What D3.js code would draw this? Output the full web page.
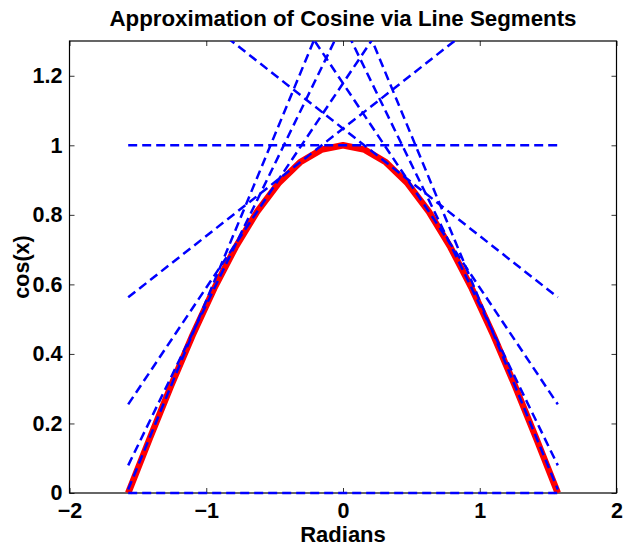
<!DOCTYPE html>
<html>
<head>
<meta charset="utf-8">
<script src="https://cdn.jsdelivr.net/npm/d3@7"></script>
<style>
  body { margin: 0; background: #fff; }
  text { font-family: "Liberation Sans", Arial, Helvetica, sans-serif; font-weight: bold; }
</style>
</head>
<body>
<div id="chart"></div>
<script>
// tick values
const ticksX = [-2, -1, 0, 1, 2];
const ticksY = [0, 0.2, 0.4, 0.6, 0.8, 1, 1.2];

// red curve: cos(x) sampled every pi/20
const curveX = [-1.5708, -1.4137, -1.2566, -1.0996, -0.9425, -0.7854, -0.6283, -0.4712, -0.3142, -0.1571,
                0, 0.1571, 0.3142, 0.4712, 0.6283, 0.7854, 0.9425, 1.0996, 1.2566, 1.4137, 1.5708];
const curveY = [0, 0.1564, 0.3090, 0.4540, 0.5878, 0.7071, 0.8090, 0.8910, 0.9511, 0.9877,
                1, 0.9877, 0.9511, 0.8910, 0.8090, 0.7071, 0.5878, 0.4540, 0.3090, 0.1564, 0];

// dashed lines, each runs from x=-pi/2 to x=pi/2
const lineX = [-1.5708, 1.5708];
const lineLeftY  = [0.0102, 0.0795, 0.2550, 0.5628, 1, 1.5336, 2.1016, 2.621, 2.998, 0];
const lineRightY = [2.998, 2.621, 2.1016, 1.5336, 1, 0.5628, 0.2550, 0.0795, 0.0102, 0];

let chart_width  = 624;
let chart_height = 547;
let margin = {left: 69.5, right: 7.5, top: 41, bottom: 54};

let svg = d3.select('#chart')
            .append('svg')
            .attr('width', chart_width)
            .attr('height', chart_height);

let x_scale = d3.scaleLinear()
            .domain([-2, 2])
            .range([margin.left, chart_width - margin.right]);

let y_scale = d3.scaleLinear()
            .domain([0, 1.3])
            .range([chart_height - margin.bottom, margin.top]);

let fmt = d3.format('~g');
let x0 = x_scale.range()[0], x1 = x_scale.range()[1];
let y0 = y_scale.range()[0], y1 = y_scale.range()[1];

// clip a touch past the frame so the y=0 dashes stay visible
svg.append('clipPath')
  .attr('id', 'plot-clip')
  .append('rect')
  .attr('x', x0).attr('y', y1)
  .attr('width', x1 - x0).attr('height', y0 - y1 + 3);

//axes, ticks point inward like matlab

svg.append('g')
  .attr('class', 'x-axis')
  .attr('transform', 'translate(0,' + y0 + ')')
  .call(d3.axisBottom(x_scale).tickValues(ticksX).tickFormat(fmt)
          .tickSizeInner(-5).tickSizeOuter(0).tickPadding(10));

svg.append('g')
  .attr('class', 'x-axis-top')
  .attr('transform', 'translate(0,' + y1 + ')')
  .call(d3.axisTop(x_scale).tickValues(ticksX).tickFormat('')
          .tickSizeInner(-5).tickSizeOuter(0));

svg.append('g')
  .attr('class', 'y-axis')
  .attr('transform', 'translate(' + x0 + ',0)')
  .call(d3.axisLeft(y_scale).tickValues(ticksY).tickFormat(fmt)
          .tickSizeInner(-5).tickSizeOuter(0).tickPadding(7));

svg.append('g')
  .attr('class', 'y-axis-right')
  .attr('transform', 'translate(' + x1 + ',0)')
  .call(d3.axisRight(y_scale).tickValues(ticksY).tickFormat('')
          .tickSizeInner(-5).tickSizeOuter(0));

svg.selectAll('.domain').remove();
svg.selectAll('.tick line').attr('stroke', '#333').attr('stroke-width', 1);
svg.selectAll('.x-axis text, .y-axis text')
  .attr('fill', '#000')
  .style('font-size', '21.5px');

// frame
svg.append('rect')
  .attr('x', x0).attr('y', y1)
  .attr('width', x1 - x0).attr('height', y0 - y1)
  .attr('fill', 'none')
  .attr('stroke', '#000')
  .attr('stroke-width', 1.2);

let plot = svg.append('g').attr('clip-path', 'url(#plot-clip)');

// red cosine
let curve = d3.line()
  .x((d, i) => x_scale(curveX[i]))
  .y(d => y_scale(d));

plot.append('path')
  .datum(curveY)
  .attr('d', curve)
  .attr('fill', 'none')
  .attr('stroke', '#ff0000')
  .attr('stroke-width', 6.5)
  .attr('stroke-linejoin', 'round');

// blue dashed lines
plot.selectAll('line.seg')
  .data(lineLeftY)
  .enter()
  .append('line')
  .attr('class', 'seg')
  .attr('x1', x_scale(lineX[0]))
  .attr('y1', d => y_scale(d))
  .attr('x2', x_scale(lineX[1]))
  .attr('y2', (d, i) => y_scale(lineRightY[i]))
  .attr('stroke', '#0000ff')
  .attr('stroke-width', 2.5)
  .attr('stroke-dasharray', '9,5');

// labels
svg.append('text')
  .attr('x', (x0 + x1) / 2)
  .attr('y', 26)
  .attr('text-anchor', 'middle')
  .style('font-size', '22.3px')
  .text('Approximation of Cosine via Line Segments');

svg.append('text')
  .attr('x', (x0 + x1) / 2)
  .attr('y', 542)
  .attr('text-anchor', 'middle')
  .style('font-size', '22px')
  .text('Radians');

svg.append('text')
  .attr('transform', 'translate(' + 29 + ',' + ((y0 + y1) / 2) + ') rotate(-90)')
  .attr('text-anchor', 'middle')
  .style('font-size', '21.5px')
  .text('cos(x)');
</script>
</body>
</html>
